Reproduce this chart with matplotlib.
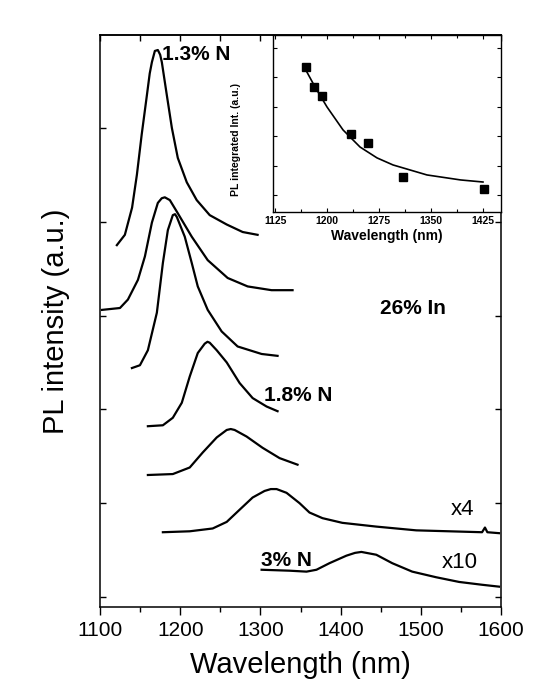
import matplotlib
matplotlib.use("Agg")
import matplotlib.pyplot as plt
from matplotlib.ticker import MultipleLocator, FixedLocator, NullFormatter

plt.rcParams['font.family'] = ['Liberation Sans', 'DejaVu Sans']

# ---------------- data (main panel, offset PL spectra) ----------------
c1_x = [1121, 1131, 1140, 1146, 1152, 1158.5, 1162, 1164.7, 1168.4, 1172.1, 1175, 1177.1, 1183.3,
        1189.6, 1197, 1208.2, 1220.6, 1236.8, 1258, 1277.9, 1296.5]
c1_y = [3.75, 3.86, 4.15, 4.50, 4.93, 5.35, 5.58, 5.70, 5.82, 5.83, 5.78, 5.70, 5.35,
        5.00, 4.68, 4.42, 4.23, 4.07, 3.97, 3.89, 3.86]

c2_x = [1102.5, 1124.9, 1134.8, 1147.3, 1156, 1164.7, 1172.1, 1177, 1180.8, 1187.1, 1197,
        1214.4, 1234.3, 1259.2, 1284.1, 1313.9, 1340.1]
c2_y = [3.06, 3.08, 3.17, 3.38, 3.63, 3.99, 4.20, 4.25, 4.26, 4.23, 4.09,
        3.84, 3.59, 3.40, 3.31, 3.27, 3.27]

c3_x = [1139.8, 1149.8, 1159.7, 1170.9, 1178.4, 1184.6, 1190.8, 1193.5, 1195.8, 1205.7,
        1214.4, 1221.9, 1234.3, 1251.7, 1271.6, 1301.5, 1321.4]
c3_y = [2.44, 2.47, 2.63, 3.03, 3.56, 3.91, 4.07, 4.08, 4.05, 3.84,
        3.56, 3.31, 3.06, 2.83, 2.67, 2.59, 2.57]

c4_x = [1159.7, 1178.4, 1190.8, 1202, 1211.9, 1221.9, 1230.6, 1234, 1236.8, 1245.5,
        1258, 1274.1, 1290.3, 1307.7, 1321.4]
c4_y = [1.82, 1.83, 1.91, 2.07, 2.35, 2.60, 2.70, 2.72, 2.71, 2.63,
        2.50, 2.28, 2.12, 2.03, 1.98]

c5_x = [1159.7, 1190.8, 1211.9, 1228.1, 1245.5, 1258, 1263, 1267.9, 1282.8, 1302.7, 1323.9, 1346.3]
c5_y = [1.30, 1.31, 1.38, 1.54, 1.70, 1.78, 1.79, 1.78, 1.71, 1.59, 1.48, 1.41]

c6_x = [1178.4, 1211.9, 1240.5, 1258, 1274.1, 1290.3, 1305.2, 1313, 1320.2, 1332.6, 1348.8,
        1361.2, 1377.4, 1402.2, 1444.5, 1494.3, 1576.4, 1580, 1583, 1597.5]
c6_y = [0.69, 0.70, 0.73, 0.80, 0.93, 1.06, 1.13, 1.15, 1.15, 1.11, 1.00,
        0.90, 0.84, 0.79, 0.75, 0.71, 0.69, 0.74, 0.69, 0.68]

c7_x = [1301.5, 1336.3, 1357.5, 1369.9, 1386.1, 1407.2, 1418, 1425.9, 1444.5, 1464.4,
        1489.3, 1519.2, 1547.8, 1576.4, 1597.5]
c7_y = [0.29, 0.28, 0.27, 0.29, 0.36, 0.44, 0.47, 0.48, 0.45, 0.36,
        0.27, 0.21, 0.16, 0.13, 0.11]

main_xticks = [1100, 1200, 1300, 1400, 1500, 1600]
main_yticks = [0, 1, 2, 3, 4, 5]

labels = ["1.3% N", "26% In", "1.8% N", "x4", "3% N", "x10"]
label_x = [1177, 1449, 1305, 1537, 1301, 1526]
label_y = [5.78, 3.07, 2.15, 0.93, 0.39, 0.37]
label_bold = [True, True, True, False, True, False]

# ---------------- data (inset) ----------------
ins_x = [1169.7, 1181.3, 1192.8, 1234.6, 1259.1, 1309.6, 1426.5]
ins_y = [4.35, 3.67, 3.37, 2.08, 1.77, 0.61, 0.20]
fit_x = [1165.4, 1182.7, 1200, 1223.1, 1247.6, 1272.1, 1295.2, 1344.2, 1392.8, 1425]
fit_y = [4.42, 3.67, 2.99, 2.21, 1.63, 1.26, 1.02, 0.68, 0.51, 0.44]
ins_xticks = [1125, 1200, 1275, 1350, 1425]

# ---------------- figure ----------------
W, H = 542, 696
fig = plt.figure(figsize=(W / 100, H / 100), dpi=100)
ax = fig.add_axes([100 / W, 89 / H, 401 / W, 572 / H])

for xs, ys in [(c1_x, c1_y), (c2_x, c2_y), (c3_x, c3_y), (c4_x, c4_y),
               (c5_x, c5_y), (c6_x, c6_y), (c7_x, c7_y)]:
    ax.plot(xs, ys, color='black', lw=1.6, solid_joinstyle='round')

ax.set_xlim(1100, 1600)
ax.set_ylim(-0.107, 5.99)
ax.xaxis.set_major_locator(FixedLocator(main_xticks))
ax.xaxis.set_minor_locator(MultipleLocator(50))
ax.yaxis.set_major_locator(FixedLocator(main_yticks))
ax.set_yticklabels([])
ax.tick_params(axis='x', which='both', direction='out', top=False, labelsize=15, pad=4)
ax.tick_params(axis='x', which='major', length=6, width=1.0)
ax.tick_params(axis='x', which='minor', length=3.5, width=1.0)
ax.tick_params(axis='y', which='major', direction='in', left=True, right=True, length=4, width=1.0)
sec = ax.secondary_xaxis('top')
sec.xaxis.set_major_locator(FixedLocator(main_xticks))
sec.xaxis.set_minor_locator(MultipleLocator(50))
sec.xaxis.set_major_formatter(NullFormatter())
sec.tick_params(which='both', direction='in', labeltop=False, length=4, width=1.0)
sec.spines['top'].set_linewidth(1.1)
for s in ax.spines.values():
    s.set_linewidth(1.1)

ax.set_xlabel("Wavelength (nm)", fontsize=21, labelpad=8)
ax.set_ylabel("PL intensity (a.u.)", fontsize=21, labelpad=18)

for t, x, y, b in zip(labels, label_x, label_y, label_bold):
    ax.text(x, y, t, fontsize=15 if b else 16, fontweight='bold' if b else 'normal',
            ha='left', va='center')

# ---------------- inset ----------------
ins = fig.add_axes([273 / W, 484 / H, 228 / W, 177 / H])
ins.plot(fit_x, fit_y, color='black', lw=1.2)
ins.plot(ins_x, ins_y, 's', color='black', ms=5.5)
ins.set_xlim(1122, 1451)
ins.set_ylim(-0.58, 5.44)
ins.xaxis.set_major_locator(FixedLocator(ins_xticks))
ins.xaxis.set_minor_locator(MultipleLocator(37.5))
ins.yaxis.set_major_locator(MultipleLocator(1))
ins.set_yticklabels([])
ins.tick_params(which='both', direction='in', top=True, right=True, width=0.8)
ins.tick_params(which='major', length=3)
ins.tick_params(which='minor', length=2)
ins.tick_params(axis='x', labelsize=7.5, pad=3)
for lab in ins.get_xticklabels():
    lab.set_fontweight('bold')
for s in ins.spines.values():
    s.set_linewidth(1.0)
ins.set_xlabel("Wavelength (nm)", fontsize=10, fontweight='bold', labelpad=2)
fig.text(236 / W, 1 - 140 / H, "PL integrated Int. (a.u.)", rotation=90,
         fontsize=7.5, fontweight='bold', ha='center', va='center')

fig.savefig("out.png", dpi=100)
